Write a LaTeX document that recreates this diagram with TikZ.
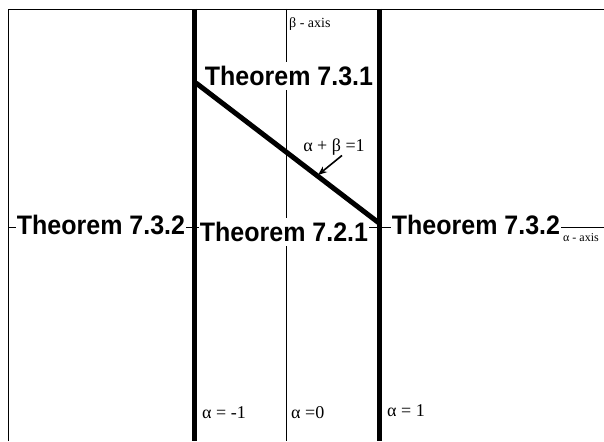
\documentclass[tikz,border=0pt]{standalone}
\usepackage{fontspec}
\setmainfont{Liberation Serif}
\newfontfamily\thmfont{Liberation Sans}
\usepackage{tikz}
\usetikzlibrary{arrows.meta,positioning}

\begin{document}
\begin{tikzpicture}[x=1pt,y=-1pt,
      thm/.style={font=\thmfont\bfseries\fontsize{25}{25}\selectfont,fill=white,inner xsep=1pt,inner ysep=4pt,yscale=1.07},
      lbl/.style={font=\fontsize{18}{18}\selectfont,inner sep=0pt},
      tag/.style={font=\fontsize{14}{14}\selectfont,inner sep=0pt},
      bar/.style={line width=5pt},
      rule/.style={line width=0.9pt}
    ]
      \useasboundingbox (0,0) rectangle (604,441);
      % frame and axes
      \coordinate (tl) at (8,9);
      \coordinate (tr) at (604,9);
      \coordinate (bl) at (8,441);
      \coordinate (axl) at (8,227);
      \coordinate (axr) at (604,227);
      \coordinate (btop) at (286,9);
      \coordinate (bbot) at (286,441);
      \draw[rule] (bl) -- (tl) -- (tr);
      \draw[rule] (axl) -- (axr);
      \draw[rule] (btop) -- (bbot);
      \node[tag,anchor=west] (baxis) at (289,24) {β - axis};
      \node[tag,anchor=west,font=\fontsize{12}{12}\selectfont] (aaxis) at (563,238) {α - axis};
      % theorem labels
      \node[thm] (t731) at (289,76) {Theorem 7.3.1};
      \node[thm] (t732l) at (101,225) {Theorem 7.3.2};
      \node[thm] (t721) at (284,232) {Theorem 7.2.1};
      \node[thm] (t732r) at (476,225) {Theorem 7.3.2};
      % lines alpha = -1 and alpha = 1
      \coordinate (lm1) at (194,9);
      \coordinate (lm1b) at (194,441);
      \coordinate (lp1) at (379,9);
      \coordinate (lp1b) at (379,441);
      \draw[bar] (lm1) -- (lm1b);
      \draw[bar] (lp1) -- (lp1b);
      % line alpha + beta = 1
      \coordinate (d1) at (196,83);
      \coordinate (d2) at (379,223);
      \draw[bar] (d1) -- (d2);
      \node[lbl] (sum) at (334,147) {α + β =1};
      \coordinate (hit) at (318,175);
      \draw[line width=1.6pt,-{Stealth[length=9pt,width=7pt]}] ([xshift=8pt]sum.south) -- (hit);
      % alpha values
      \node[lbl,anchor=west] (am1) at (202,413) {α = -1};
      \node[lbl,anchor=west] (a0) at (291,413) {α =0};
      \node[lbl,anchor=west] (ap1) at (387,411) {α = 1};
    \end{tikzpicture}
\end{document}
